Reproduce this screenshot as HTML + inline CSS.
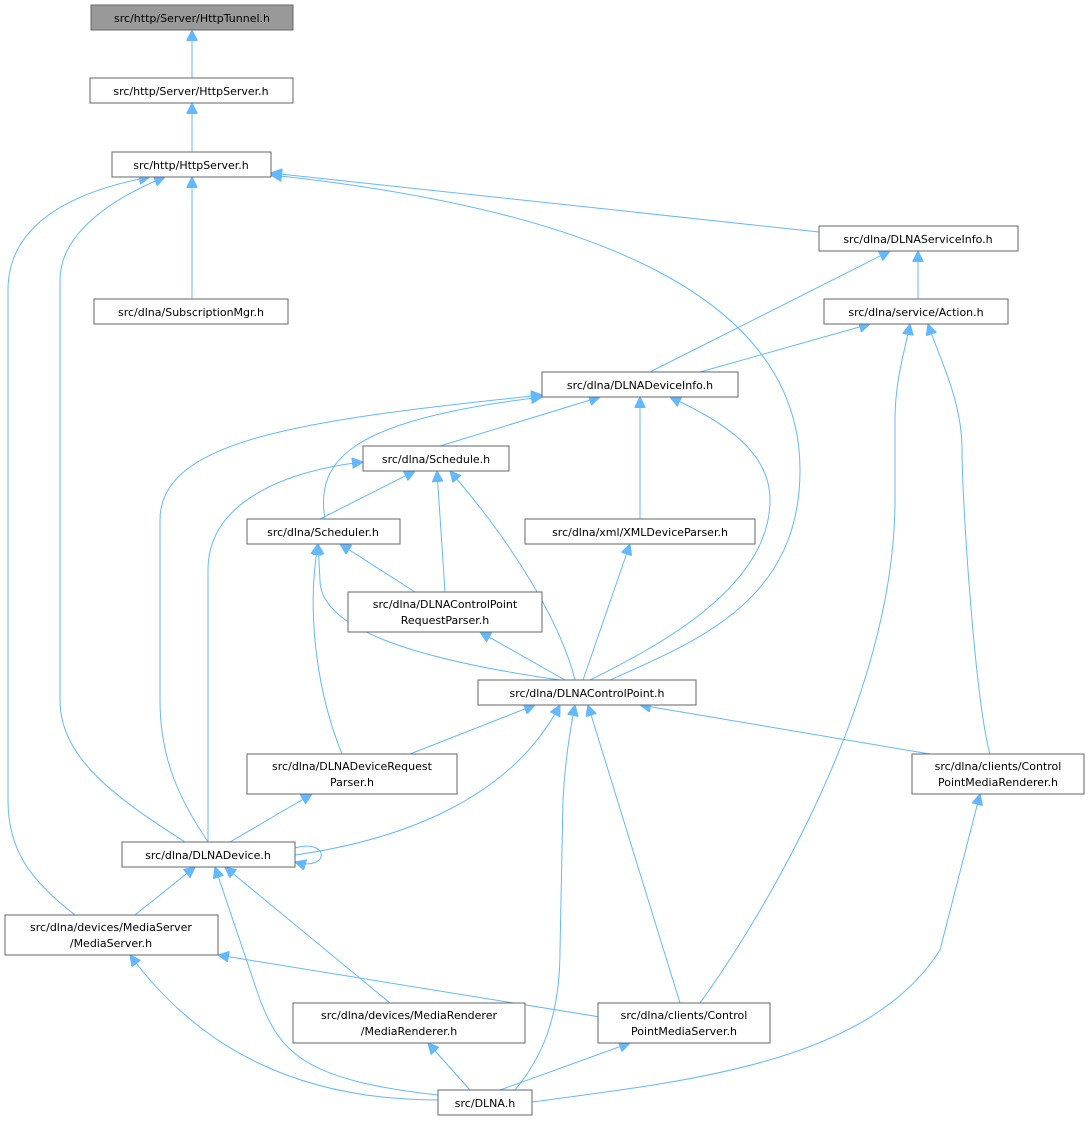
<!DOCTYPE html>
<html><head><meta charset="utf-8"><style>
html,body{margin:0;padding:0;background:#fff;}
svg text{font-family:"DejaVu Sans","Liberation Sans",sans-serif;font-size:11px;fill:#000;}
</style></head><body>
<svg width="1089" height="1121" viewBox="0 0 1089 1121" xmlns="http://www.w3.org/2000/svg">
<defs>
<marker id="a" viewBox="0 0 10 10" refX="10" refY="5" markerWidth="11" markerHeight="11" markerUnits="userSpaceOnUse" orient="auto">
<path d="M0,0 L10,5 L0,10 z" fill="#63b8ff" stroke="#63b8ff"/>
</marker>
</defs>
<g fill="none" stroke="#63b8ff" stroke-width="1" marker-end="url(#a)">
<path d="M192,78 L192,30"/>
<path d="M192,152 L192,103"/>
<path d="M192,299 L192,177"/>
<path d="M819,232 L271,173"/>
<path d="M610,680 C700,640 800,600 800,470 C800,300 600,210 271,175"/>
<path d="M185,842 C120,800 60,760 60,700 L60,280 C60,230 120,195 165,177"/>
<path d="M75,915 C30,880 8,850 8,800 L8,290 C8,220 80,190 150,177"/>
<path d="M918,299 L918,251"/>
<path d="M650,372 L890,251"/>
<path d="M700,372 L870,324"/>
<path d="M990,754 C975,700 962,500 962,450 C962,400 940,360 928,324"/>
<path d="M700,1003 C760,920 895,700 895,500 L895,420 C895,380 905,350 910,324"/>
<path d="M440,446 L600,397"/>
<path d="M325,519 C315,460 350,420 542,397"/>
<path d="M208,842 C180,800 160,760 160,700 L160,520 C160,440 300,420 542,395"/>
<path d="M640,519 L640,397"/>
<path d="M590,680 C650,650 770,590 770,500 C770,450 720,420 670,397"/>
<path d="M320,519 L415,471"/>
<path d="M445,592 L437,471"/>
<path d="M575,680 C560,620 510,540 450,471"/>
<path d="M208,842 L208,570 C208,500 290,470 363,462"/>
<path d="M415,592 L340,544"/>
<path d="M560,680 C420,660 320,630 320,580 L318,544"/>
<path d="M342,754 C320,700 305,620 318,544"/>
<path d="M583,680 L630,544"/>
<path d="M565,680 L480,632"/>
<path d="M410,754 L535,705"/>
<path d="M930,754 L640,705"/>
<path d="M295,855 C400,840 510,800 560,705"/>
<path d="M680,1003 L588,705"/>
<path d="M515,1090 C540,1060 560,1020 560,950 L563,800 C565,760 570,730 575,705"/>
<path d="M230,842 L312,794"/>
<path d="M295,848 C330,838 330,872 295,862"/>
<path d="M135,915 L195,867"/>
<path d="M390,1003 L225,867"/>
<path d="M438,1095 C300,1080 280,1050 260,1000 L215,867"/>
<path d="M438,1100 C300,1100 200,1050 130,955"/>
<path d="M470,1090 L428,1043"/>
<path d="M500,1090 L630,1043"/>
<path d="M532,1102 C700,1080 870,1060 940,950 L980,794"/>
<path d="M600,1017 L218,955"/>
</g>
<g stroke="#666" stroke-width="1" fill="#fff">
<rect x="91" y="5" width="202" height="25" fill="#999"/>
<rect x="90" y="78" width="203" height="25"/>
<rect x="112" y="152" width="159" height="25"/>
<rect x="819" y="226" width="199" height="25"/>
<rect x="94" y="299" width="194" height="25"/>
<rect x="824" y="299" width="184" height="25"/>
<rect x="542" y="372" width="196" height="25"/>
<rect x="363" y="446" width="146" height="25"/>
<rect x="247" y="519" width="153" height="25"/>
<rect x="525" y="519" width="230" height="25"/>
<rect x="348" y="592" width="194" height="40"/>
<rect x="478" y="680" width="218" height="25"/>
<rect x="247" y="754" width="210" height="40"/>
<rect x="912" y="754" width="172" height="40"/>
<rect x="122" y="842" width="173" height="25"/>
<rect x="5" y="915" width="213" height="40"/>
<rect x="293" y="1003" width="232" height="40"/>
<rect x="598" y="1003" width="172" height="40"/>
<rect x="438" y="1090" width="94" height="25"/>
</g>
<g text-anchor="middle">
<text x="192" y="22">src/http/Server/HttpTunnel.h</text>
<text x="191" y="95">src/http/Server/HttpServer.h</text>
<text x="191" y="169">src/http/HttpServer.h</text>
<text x="918" y="243">src/dlna/DLNAServiceInfo.h</text>
<text x="191" y="316">src/dlna/SubscriptionMgr.h</text>
<text x="916" y="316">src/dlna/service/Action.h</text>
<text x="640" y="389">src/dlna/DLNADeviceInfo.h</text>
<text x="436" y="463">src/dlna/Schedule.h</text>
<text x="323" y="536">src/dlna/Scheduler.h</text>
<text x="640" y="536">src/dlna/xml/XMLDeviceParser.h</text>
<text x="445" y="608">src/dlna/DLNAControlPoint</text>
<text x="445" y="624">RequestParser.h</text>
<text x="587" y="697">src/dlna/DLNAControlPoint.h</text>
<text x="352" y="770">src/dlna/DLNADeviceRequest</text>
<text x="352" y="786">Parser.h</text>
<text x="998" y="770">src/dlna/clients/Control</text>
<text x="998" y="786">PointMediaRenderer.h</text>
<text x="208" y="859">src/dlna/DLNADevice.h</text>
<text x="111" y="931">src/dlna/devices/MediaServer</text>
<text x="111" y="947">/MediaServer.h</text>
<text x="409" y="1019">src/dlna/devices/MediaRenderer</text>
<text x="409" y="1035">/MediaRenderer.h</text>
<text x="684" y="1019">src/dlna/clients/Control</text>
<text x="684" y="1035">PointMediaServer.h</text>
<text x="485" y="1107">src/DLNA.h</text>
</g>
</svg>
</body></html>
